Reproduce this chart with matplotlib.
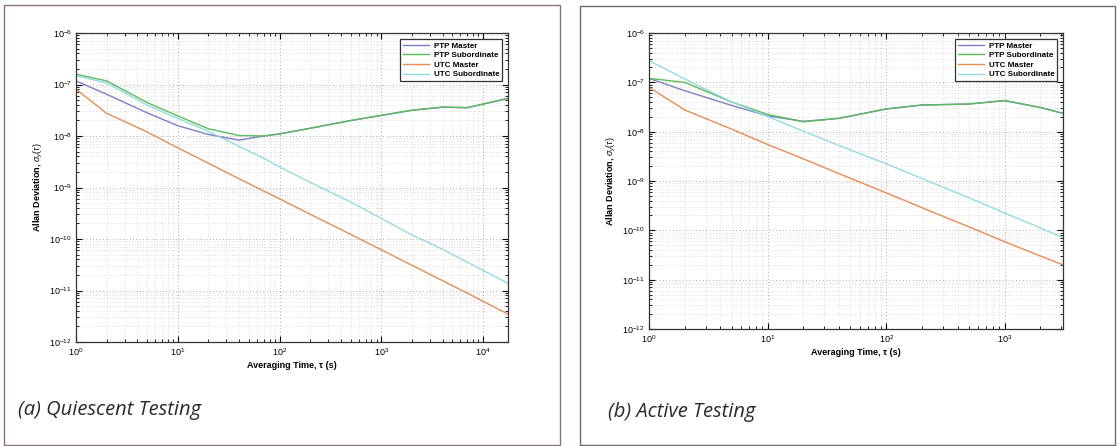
import numpy as np
import matplotlib
matplotlib.use("Agg")
import matplotlib.pyplot as plt
from matplotlib.patches import Rectangle
from matplotlib.ticker import LogLocator, FuncFormatter, NullFormatter

# ---------------- data ----------------
series_names = ["PTP Master", "PTP Subordinate", "UTC Master", "UTC Subordinate"]
series_colors = ["#7d7fc4", "#5cba5a", "#ec8a52", "#93dbe3"]

# (a) Quiescent testing
tau_a = [1, 2, 5, 10, 20, 40, 70, 100, 200, 500, 1000, 2000, 4000, 7000, 17600]
log_ptp_master_a = [-6.93, -7.19, -7.55, -7.80, -7.97, -8.08, -8.00, -7.96, -7.85, -7.70, -7.60, -7.50, -7.44, -7.45, -7.27]
log_ptp_sub_a    = [-6.80, -6.93, -7.35, -7.61, -7.86, -7.99, -8.00, -7.96, -7.85, -7.70, -7.60, -7.50, -7.44, -7.45, -7.27]
log_utc_master_a = [-7.09, -7.56, -7.92, -8.23, -8.53, -8.83, -9.07, -9.22, -9.52, -9.91, -10.21, -10.51, -10.81, -11.05, -11.46]
log_utc_sub_a    = [-6.83, -6.97, -7.40, -7.66, -7.91, -8.20, -8.43, -8.60, -8.90, -9.28, -9.60, -9.92, -10.20, -10.45, -10.86]

# (b) Active testing
tau_b = [1, 2, 5, 10, 20, 40, 100, 200, 500, 1000, 2000, 3100]
log_ptp_master_b = [-6.92, -7.17, -7.47, -7.68, -7.79, -7.73, -7.54, -7.46, -7.44, -7.37, -7.51, -7.63]
log_ptp_sub_b    = [-6.92, -7.00, -7.40, -7.65, -7.80, -7.73, -7.54, -7.46, -7.44, -7.37, -7.51, -7.63]
log_utc_master_b = [-7.10, -7.56, -7.95, -8.26, -8.55, -8.85, -9.24, -9.54, -9.93, -10.23, -10.52, -10.70]
log_utc_sub_b    = [-6.56, -6.93, -7.40, -7.69, -7.99, -8.28, -8.65, -8.95, -9.34, -9.65, -9.95, -10.15]

xmax_a = 17600
xmax_b = 3100
captions = ["(a) Quiescent Testing", "(b) Active Testing"]
xlabel = "Averaging Time, \u03c4 (s)"
ylabel = "Allan Deviation, $\\sigma_y(\\tau)$"

# ---------------- figure ----------------
plt.rcParams['font.family'] = ['Liberation Sans', 'DejaVu Sans']
plt.rcParams['mathtext.fontset'] = 'custom'
plt.rcParams['mathtext.rm'] = 'Liberation Sans'
plt.rcParams['mathtext.it'] = 'Liberation Sans:italic'
fig = plt.figure(figsize=(11.17, 4.46), dpi=100)
fig.patch.set_facecolor("white")

# panel frames
fig.patches.append(Rectangle((4/1117, 1 - 445/446), (560-4)/1117, (445-5)/446,
                             transform=fig.transFigure, fill=False,
                             edgecolor="#8c7276", linewidth=1.0))
fig.patches.append(Rectangle((580/1117, 1 - 445/446), (1115-580)/1117, (445-6)/446,
                             transform=fig.transFigure, fill=False,
                             edgecolor="#6f6a6c", linewidth=1.0))

ax_a = fig.add_axes([76/1117, 1 - 342/446, (508-76)/1117, (342-33)/446])
ax_b = fig.add_axes([649/1117, 1 - 329/446, (1063-649)/1117, (329-33)/446])

def fmt(v, pos):
    e = int(round(np.log10(v)))
    return r"$10^{%d}$" % e

def draw(ax, tau, logs, xmax):
    for name, col, lg in zip(series_names, series_colors, logs):
        ax.plot(tau, 10.0 ** np.array(lg), color=col, lw=1.0, label=name)
    ax.set_xscale("log")
    ax.set_yscale("log")
    ax.set_xlim(1, xmax)
    ax.set_ylim(1e-12, 1e-6)
    ax.xaxis.set_major_locator(LogLocator(base=10, numticks=20))
    ax.yaxis.set_major_locator(LogLocator(base=10, numticks=20))
    ax.xaxis.set_minor_locator(LogLocator(base=10, subs=np.arange(2, 10), numticks=20))
    ax.yaxis.set_minor_locator(LogLocator(base=10, subs=np.arange(2, 10), numticks=20))
    ax.xaxis.set_major_formatter(FuncFormatter(fmt))
    ax.yaxis.set_major_formatter(FuncFormatter(fmt))
    ax.xaxis.set_minor_formatter(NullFormatter())
    ax.yaxis.set_minor_formatter(NullFormatter())
    ax.tick_params(which="both", direction="in", top=True, right=True,
                   labelsize=6.5, pad=3)
    ax.tick_params(which="major", length=4, width=0.8)
    ax.tick_params(which="minor", length=2, width=0.6)
    ax.grid(True, which="major", linestyle=(0, (1, 3)), color="#8f8f8f", lw=0.6)
    ax.grid(True, which="minor", linestyle=(0, (1, 3)), color="#bdbdbd", lw=0.5)
    for s in ax.spines.values():
        s.set_linewidth(0.9)
        s.set_color("#333333")
    ax.set_xlabel(xlabel, fontsize=6.5, fontweight="bold", labelpad=2)
    ax.set_ylabel(ylabel, fontsize=6.5, fontweight="bold", labelpad=3)
    leg = ax.legend(loc="upper right", fontsize=5.8, frameon=True, fancybox=False,
                    borderpad=0.3, labelspacing=0.25, handlelength=3.2,
                    handletextpad=0.6, borderaxespad=0.8)
    leg.get_frame().set_edgecolor("black")
    leg.get_frame().set_linewidth(0.9)
    for t in leg.get_texts():
        t.set_fontweight("bold")

draw(ax_a, tau_a, [log_ptp_master_a, log_ptp_sub_a, log_utc_master_a, log_utc_sub_a], xmax_a)
draw(ax_b, tau_b, [log_ptp_master_b, log_ptp_sub_b, log_utc_master_b, log_utc_sub_b], xmax_b)

fig.text(18/1117, 1 - 410/446, captions[0], fontsize=14.5, style="italic",
         family=["Open Sans", "DejaVu Sans"], fontweight="normal",
         color="#2a2a2a", va="center", ha="left")
fig.text(608/1117, 1 - 412/446, captions[1], fontsize=14.5, style="italic",
         family=["Open Sans", "DejaVu Sans"], fontweight="normal",
         color="#2a2a2a", va="center", ha="left")

fig.savefig("out.png", dpi=100, facecolor="white")
